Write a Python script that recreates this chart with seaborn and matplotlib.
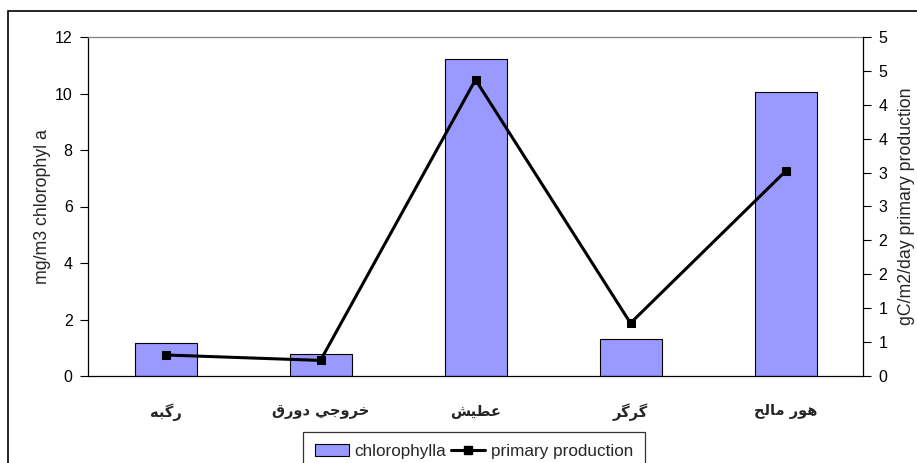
import numpy as np
import pandas as pd
import matplotlib
matplotlib.use("Agg")
import matplotlib.pyplot as plt
import seaborn as sns
from matplotlib.ticker import FixedLocator, FuncFormatter, MultipleLocator
from matplotlib.patches import Rectangle
from matplotlib.lines import Line2D
from matplotlib.patches import Patch

# Arabic station names (presentation forms, arranged to match the reference's visual order)
stations = [
    "\uFEEA\uFE92\uFB94\uFEAD",                              # رگبه
    "\uFED5\uFEAD\uFEED\uFEA9 \uFEF2\uFE9F\uFEED\uFEAE\uFEA7",  # خروجي دورق
    "\uFEB6\uFEF4\uFEC4\uFECB",                              # عطيش
    "\uFEAE\uFB94\uFEAE\uFB94",                              # گرگر
    "\uFEA2\uFEDF\uFE8E\uFEE3 \uFEAD\uFEEE\uFEEB",           # هور مالح
]
chlorophyll = [1.18, 0.78, 11.21, 1.31, 10.05]
production = [0.31, 0.23, 4.37, 0.78, 3.02]

sns.set_style("white")
plt.rcParams["font.family"] = ["Liberation Sans", "DejaVu Sans"]

fig = plt.figure(figsize=(9.17, 4.63), dpi=100)
W, H = 917, 463
ax = fig.add_axes([88 / W, (H - 376) / H, (863 - 88) / W, (376 - 37) / H])

df = pd.DataFrame({"station": stations, "chl": chlorophyll, "prod": production})
sns.barplot(data=df, x="station", y="chl", color="#9999FF", saturation=1,
            edgecolor="black", linewidth=0.8, width=0.4, ax=ax)

ax.set_xlim(-0.5, 4.5)
ax.set_ylim(0, 12)
ax.yaxis.set_major_locator(MultipleLocator(2))
ax.set_xlabel("")
ax.set_ylabel("mg/m3 chlorophyl a", fontsize=12.8, labelpad=3)
ax.tick_params(axis="y", direction="out", length=6, width=0.8, labelsize=11.5, pad=5, colors="black")
ax.set_xticks(range(5))
ax.set_xticklabels(stations, fontsize=10.5, fontweight="bold", family=["DejaVu Sans"])
ax.tick_params(axis="x", which="major", length=0, pad=20)
ax.xaxis.set_minor_locator(FixedLocator([0.5, 1.5, 2.5, 3.5]))
ax.tick_params(axis="x", which="minor", direction="out", length=5, width=0.8, color="black")
for s in ["left", "bottom"]:
    ax.spines[s].set_color("black")
    ax.spines[s].set_linewidth(0.9)
ax.spines["top"].set_color("#808080")
ax.spines["top"].set_linewidth(0.9)
ax.spines["right"].set_visible(False)

ax2 = ax.twinx()
sns.lineplot(x=np.arange(5), y=production, ax=ax2, color="black", linewidth=2.2,
             marker="s", markersize=5.5, markeredgecolor="black", legend=False)
ax2.set_ylim(0, 5)
ax2.set_xlim(-0.5, 4.5)
ax2.yaxis.set_major_locator(MultipleLocator(0.5))
ax2.yaxis.set_major_formatter(FuncFormatter(lambda v, p: f"{int(np.floor(v + 0.5 + 1e-9))}"))
ax2.tick_params(axis="y", direction="out", length=6, width=0.8, labelsize=11.5, pad=5, colors="black")
ax2.set_ylabel("gC/m2/day primary production", fontsize=12.8, labelpad=8)
ax2.spines["right"].set_color("black")
ax2.spines["right"].set_linewidth(0.9)
for s in ["left", "top", "bottom"]:
    ax2.spines[s].set_visible(False)
ax2.grid(False)
ax.grid(False)

# outer chart frame
fig.patches.append(Rectangle((8 / W, -0.1), 1.2, (H - 11) / H + 0.1, transform=fig.transFigure,
                             fill=False, edgecolor="black", linewidth=1.2))

handles = [Patch(facecolor="#9999FF", edgecolor="black", linewidth=0.8),
           Line2D([0], [0], color="black", linewidth=2.2, marker="s", markersize=5.5)]
leg = fig.legend(handles, ["chlorophylla", "primary production"], loc="upper center",
                 bbox_to_anchor=(474 / W, (H - 432) / H), ncol=2, frameon=True, fancybox=False,
                 fontsize=12.3, handlelength=2.0, columnspacing=0.3, handletextpad=0.3,
                 borderpad=0.7, borderaxespad=0, edgecolor="black")
leg.get_frame().set_linewidth(0.9)

fig.savefig("out.png", dpi=100)
